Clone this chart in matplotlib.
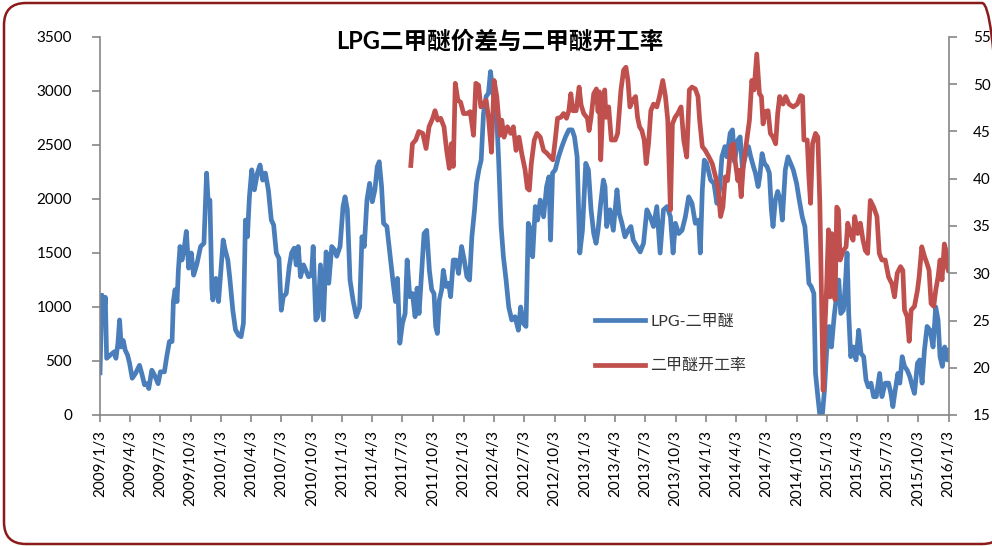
import pandas as pd
import matplotlib.pyplot as plt
from matplotlib.patches import FancyBboxPatch
from matplotlib.transforms import IdentityTransform

plt.rcParams['font.family'] = ['Lato', 'Noto Sans CJK SC', 'DejaVu Sans']

# LPG - DME price spread (left axis)
spread_dates = [
    '2009-01-03', '2009-01-09', '2009-01-15', '2009-01-19', '2009-01-23', '2009-02-03', '2009-02-15', '2009-02-20',
    '2009-02-26', '2009-03-03', '2009-03-08', '2009-03-14', '2009-03-20', '2009-03-27', '2009-04-02', '2009-04-10',
    '2009-04-20', '2009-05-02', '2009-05-10', '2009-05-17', '2009-05-24', '2009-05-30', '2009-06-08', '2009-06-16',
    '2009-06-27', '2009-07-04', '2009-07-16', '2009-07-23', '2009-07-31', '2009-08-08', '2009-08-12', '2009-08-17',
    '2009-08-23', '2009-08-27', '2009-09-01', '2009-09-07', '2009-09-13', '2009-09-20', '2009-09-27', '2009-10-05',
    '2009-10-12', '2009-10-22', '2009-11-02', '2009-11-12', '2009-11-20', '2009-11-25', '2009-11-30', '2009-12-06',
    '2009-12-09', '2009-12-18', '2009-12-26', '2010-01-02', '2010-01-09', '2010-01-15', '2010-01-23', '2010-01-29',
    '2010-02-07', '2010-02-15', '2010-02-24', '2010-03-04', '2010-03-11', '2010-03-17', '2010-03-23', '2010-03-29',
    '2010-04-05', '2010-04-13', '2010-04-22', '2010-04-30', '2010-05-08', '2010-05-16', '2010-05-25', '2010-06-03',
    '2010-06-10', '2010-06-18', '2010-06-26', '2010-07-03', '2010-07-09', '2010-07-18', '2010-07-27', '2010-08-03',
    '2010-08-11', '2010-08-17', '2010-08-23', '2010-08-30', '2010-09-08', '2010-09-23', '2010-10-02', '2010-10-07',
    '2010-10-15', '2010-10-21', '2010-10-29', '2010-11-07', '2010-11-15', '2010-11-23', '2010-12-02', '2010-12-10',
    '2010-12-17', '2010-12-27', '2011-01-05', '2011-01-11', '2011-01-18', '2011-01-26', '2011-02-04', '2011-02-14',
    '2011-02-24', '2011-03-03', '2011-03-10', '2011-03-18', '2011-03-26', '2011-04-03', '2011-04-11', '2011-04-18',
    '2011-04-24', '2011-05-01', '2011-05-07', '2011-05-17', '2011-05-27', '2011-06-05', '2011-06-12', '2011-06-18',
    '2011-06-25', '2011-07-03', '2011-07-11', '2011-07-17', '2011-07-25', '2011-08-02', '2011-08-10', '2011-08-16',
    '2011-08-22', '2011-08-30', '2011-09-06', '2011-09-14', '2011-09-22', '2011-09-29', '2011-10-06', '2011-10-11',
    '2011-10-16', '2011-10-22', '2011-10-29', '2011-11-03', '2011-11-11', '2011-11-19', '2011-11-25', '2011-12-03',
    '2011-12-11', '2011-12-19', '2011-12-28', '2012-01-05', '2012-01-13', '2012-01-21', '2012-01-28', '2012-02-05',
    '2012-02-11', '2012-02-18', '2012-02-25', '2012-03-03', '2012-03-11', '2012-03-18', '2012-03-24', '2012-04-02',
    '2012-04-10', '2012-04-18', '2012-04-25', '2012-05-02', '2012-05-10', '2012-05-18', '2012-05-27', '2012-06-06',
    '2012-06-16', '2012-06-23', '2012-07-01', '2012-07-09', '2012-07-16', '2012-07-23', '2012-07-29', '2012-08-06',
    '2012-08-13', '2012-08-21', '2012-08-31', '2012-09-09', '2012-09-16', '2012-09-21', '2012-09-27', '2012-10-05',
    '2012-10-15', '2012-10-25', '2012-11-05', '2012-11-15', '2012-11-25', '2012-12-02', '2012-12-10', '2012-12-18',
    '2012-12-26', '2013-01-05', '2013-01-13', '2013-01-21', '2013-01-29', '2013-02-05', '2013-02-11', '2013-02-19',
    '2013-02-27', '2013-03-04', '2013-03-09', '2013-03-19', '2013-03-29', '2013-04-09', '2013-04-16', '2013-04-24',
    '2013-05-03', '2013-05-13', '2013-05-21', '2013-05-28', '2013-06-08', '2013-06-18', '2013-06-28', '2013-07-08',
    '2013-07-18', '2013-07-28', '2013-08-07', '2013-08-17', '2013-08-27', '2013-09-07', '2013-09-17', '2013-09-25',
    '2013-10-02', '2013-10-12', '2013-10-22', '2013-11-01', '2013-11-11', '2013-11-21', '2013-12-01', '2013-12-11',
    '2013-12-16', '2013-12-22', '2013-12-28', '2014-01-04', '2014-01-16', '2014-01-26', '2014-02-04', '2014-02-12',
    '2014-02-19', '2014-02-28', '2014-03-06', '2014-03-16', '2014-03-23', '2014-03-29', '2014-04-08', '2014-04-15',
    '2014-04-22', '2014-04-30', '2014-05-10', '2014-05-17', '2014-05-25', '2014-05-31', '2014-06-08', '2014-06-13',
    '2014-06-20', '2014-06-27', '2014-07-05', '2014-07-12', '2014-07-18', '2014-07-23', '2014-07-30', '2014-08-06',
    '2014-08-14', '2014-08-20', '2014-08-29', '2014-09-06', '2014-09-14', '2014-09-22', '2014-10-02', '2014-10-10',
    '2014-10-19', '2014-10-27', '2014-11-03', '2014-11-08', '2014-11-15', '2014-11-23', '2014-11-28', '2014-12-05',
    '2014-12-11', '2014-12-19', '2014-12-25', '2014-12-31', '2015-01-08', '2015-01-15', '2015-01-23', '2015-01-30',
    '2015-02-06', '2015-02-12', '2015-02-20', '2015-02-26', '2015-03-03', '2015-03-08', '2015-03-14', '2015-03-22',
    '2015-03-30', '2015-04-07', '2015-04-14', '2015-04-22', '2015-04-29', '2015-05-06', '2015-05-14', '2015-05-22',
    '2015-05-30', '2015-06-09', '2015-06-16', '2015-06-26', '2015-07-06', '2015-07-13', '2015-07-19', '2015-07-26',
    '2015-08-03', '2015-08-09', '2015-08-16', '2015-08-23', '2015-08-31', '2015-09-08', '2015-09-16', '2015-09-22',
    '2015-10-01', '2015-10-08', '2015-10-15', '2015-10-22', '2015-10-30', '2015-11-08', '2015-11-17', '2015-11-25',
    '2015-12-02', '2015-12-08', '2015-12-15', '2015-12-22', '2015-12-30', '2016-01-02',
]
spread = [
    390, 1110, 940, 1090, 525, 555, 585, 525,
    665, 880, 630, 690, 600, 555, 480, 340,
    385, 460, 370, 280, 290, 245, 415, 370,
    290, 400, 400, 540, 680, 680, 1050, 1160,
    1050, 1340, 1560, 1435, 1530, 1700, 1360, 1500,
    1295, 1400, 1560, 1590, 2240, 1960, 1990, 1160,
    1065, 1265, 1050, 1340, 1620, 1530, 1435, 1265,
    970, 790, 740, 725, 850, 1805, 1650, 2020,
    2270, 2085, 2240, 2315, 2175, 2240, 2085, 1805,
    1760, 1500, 1450, 970, 1095, 1125, 1375, 1500,
    1545, 1390, 1560, 1280, 1390, 1280, 1295, 1560,
    880, 910, 1390, 880, 1510, 1220, 1560, 1530,
    1470, 1560, 1930, 2020, 1900, 1250, 1065, 910,
    1000, 1650, 1560, 1990, 2145, 1975, 2085, 2300,
    2345, 2115, 1775, 1745, 1465, 1220, 1050, 1265,
    665, 850, 940, 1435, 1095, 1125, 910, 1175,
    940, 1340, 1680, 1710, 1340, 1160, 1125, 820,
    755, 1065, 1160, 1340, 1190, 1220, 1095, 1435,
    1435, 1310, 1560, 1435, 1280, 1250, 1650, 1900,
    2145, 2270, 2360, 2790, 2950, 2980, 3180, 2950,
    2890, 2330, 1750, 1465, 1250, 1000, 880, 910,
    785, 1000, 850, 820, 1775, 1710, 1465, 1930,
    1805, 1990, 1835, 2115, 2205, 1620, 2240, 2270,
    2390, 2485, 2575, 2640, 2640, 2575, 2390, 1500,
    1710, 2330, 2270, 1900, 1680, 1590, 1710, 1960,
    2175, 2115, 1745, 1900, 1710, 2085, 1865, 1775,
    1650, 1710, 1745, 1620, 1560, 1510, 1590, 1900,
    1835, 1745, 1930, 1500, 1900, 1930, 1835, 1500,
    1775, 1680, 1710, 1835, 2020, 1960, 1775, 1805,
    1500, 2085, 2360, 2330, 2175, 2145, 1960, 2085,
    2390, 2485, 2390, 2610, 2640, 2345, 2545, 2575,
    2270, 2390, 2485, 2390, 2300, 2240, 2115, 2205,
    2420, 2330, 2300, 2240, 1900, 1745, 1990, 2070,
    1990, 1805, 2270, 2390, 2330, 2270, 2145, 1990,
    1835, 1745, 1465, 1220, 1190, 1125, 385, 170,
    0, 15, 230, 570, 820, 630, 910, 1095,
    1250, 940, 970, 1220, 1500, 940, 540, 630,
    510, 785, 570, 540, 325, 260, 295, 170,
    170, 385, 170, 295, 295, 200, 77, 230,
    385, 295, 540, 450, 415, 355, 260, 200,
    480, 510, 295, 600, 820, 785, 630, 1000,
    880, 540, 450, 630, 510, 600,
]

# DME operating rate (right axis)
rate_dates = [
    '2011-07-28', '2011-08-02', '2011-08-12', '2011-08-21', '2011-09-02', '2011-09-12', '2011-09-21', '2011-10-02',
    '2011-10-09', '2011-10-17', '2011-10-26', '2011-11-05', '2011-11-13', '2011-11-21', '2011-11-27', '2011-12-03',
    '2011-12-09', '2011-12-17', '2011-12-25', '2012-01-03', '2012-01-13', '2012-01-23', '2012-02-02', '2012-02-09',
    '2012-02-17', '2012-02-24', '2012-03-03', '2012-03-11', '2012-03-18', '2012-03-27', '2012-04-04', '2012-04-12',
    '2012-04-22', '2012-04-27', '2012-05-04', '2012-05-14', '2012-05-24', '2012-06-01', '2012-06-09', '2012-06-18',
    '2012-06-26', '2012-07-06', '2012-07-13', '2012-07-19', '2012-07-25', '2012-08-03', '2012-08-11', '2012-08-21',
    '2012-08-31', '2012-09-10', '2012-09-20', '2012-09-28', '2012-10-05', '2012-10-12', '2012-10-22', '2012-10-30',
    '2012-11-08', '2012-11-15', '2012-11-21', '2012-11-27', '2012-12-07', '2012-12-16', '2012-12-22', '2012-12-30',
    '2013-01-10', '2013-01-15', '2013-01-21', '2013-01-29', '2013-02-06', '2013-02-11', '2013-02-15', '2013-02-19',
    '2013-02-25', '2013-03-03', '2013-03-07', '2013-03-15', '2013-03-23', '2013-04-04', '2013-04-11', '2013-04-21',
    '2013-04-29', '2013-05-06', '2013-05-12', '2013-05-18', '2013-05-26', '2013-06-04', '2013-06-10', '2013-06-16',
    '2013-06-23', '2013-06-30', '2013-07-06', '2013-07-13', '2013-07-20', '2013-07-28', '2013-08-07', '2013-08-15',
    '2013-08-25', '2013-09-02', '2013-09-09', '2013-09-17', '2013-09-23', '2013-10-01', '2013-10-09', '2013-10-19',
    '2013-10-27', '2013-11-05', '2013-11-13', '2013-11-21', '2013-12-01', '2013-12-09', '2013-12-14', '2013-12-22',
    '2013-12-31', '2014-01-11', '2014-01-21', '2014-01-31', '2014-02-07', '2014-02-15', '2014-02-22', '2014-03-01',
    '2014-03-08', '2014-03-18', '2014-03-26', '2014-04-01', '2014-04-08', '2014-04-12', '2014-04-18', '2014-04-25',
    '2014-05-05', '2014-05-13', '2014-05-20', '2014-05-27', '2014-06-04', '2014-06-12', '2014-06-18', '2014-06-23',
    '2014-06-30', '2014-07-08', '2014-07-15', '2014-07-23', '2014-07-31', '2014-08-06', '2014-08-12', '2014-08-22',
    '2014-08-30', '2014-09-09', '2014-09-22', '2014-10-04', '2014-10-14', '2014-10-20', '2014-10-24', '2014-11-03',
    '2014-11-08', '2014-11-13', '2014-11-19', '2014-11-28', '2014-12-05', '2014-12-11', '2014-12-17', '2014-12-21',
    '2014-12-26', '2014-12-31', '2015-01-06', '2015-01-11', '2015-01-16', '2015-01-21', '2015-01-26', '2015-01-31',
    '2015-02-05', '2015-02-10', '2015-02-20', '2015-02-28', '2015-03-05', '2015-03-13', '2015-03-21', '2015-03-26',
    '2015-04-04', '2015-04-12', '2015-04-20', '2015-04-27', '2015-05-04', '2015-05-12', '2015-05-22', '2015-06-01',
    '2015-06-08', '2015-06-16', '2015-06-26', '2015-07-06', '2015-07-16', '2015-07-24', '2015-08-01', '2015-08-11',
    '2015-08-18', '2015-08-23', '2015-08-31', '2015-09-06', '2015-09-12', '2015-09-22', '2015-10-01', '2015-10-06',
    '2015-10-14', '2015-10-22', '2015-10-30', '2015-11-05', '2015-11-11', '2015-11-19', '2015-11-25', '2015-12-02',
    '2015-12-08', '2015-12-14', '2015-12-21', '2015-12-26', '2015-12-31', '2016-01-02',
]
rate = [
    41.4, 43.7, 44.1, 45.0, 44.8, 43.2, 45.5, 46.4,
    47.2, 46.2, 46.4, 45.5, 43.0, 41.1, 43.7, 41.3,
    50.1, 48.3, 48.1, 46.9, 46.9, 47.1, 44.6, 50.1,
    49.9, 47.6, 47.9, 48.3, 46.5, 42.8, 50.4, 48.7,
    44.6, 46.2, 44.4, 45.5, 44.8, 45.5, 43.0, 44.4,
    42.7, 41.0, 39.0, 38.8, 41.6, 44.1, 44.8, 44.4,
    43.0, 42.7, 42.3, 42.0, 44.1, 46.4, 46.5, 46.9,
    46.4, 47.2, 49.0, 47.2, 47.2, 49.7, 47.8, 46.9,
    46.4, 45.1, 46.5, 49.0, 49.5, 47.1, 49.2, 42.0,
    47.2, 49.4, 46.5, 47.6, 44.1, 44.1, 44.8, 49.4,
    51.5, 51.8, 50.4, 47.6, 48.3, 48.7, 46.5, 45.5,
    45.1, 44.1, 41.6, 43.7, 47.2, 47.9, 47.6, 48.7,
    50.4, 48.7, 46.2, 36.7, 45.8, 46.5, 46.9, 47.6,
    44.1, 42.3, 49.4, 49.7, 49.5, 48.7, 46.2, 43.4,
    43.0, 42.3, 41.6, 40.2, 39.1, 36.0, 37.0, 40.2,
    39.8, 43.4, 43.7, 41.6, 39.8, 40.9, 38.1, 41.6,
    44.1, 46.2, 50.4, 49.4, 53.2, 49.0, 48.7, 45.8,
    47.1, 47.2, 44.8, 44.4, 43.7, 46.9, 48.7, 47.9,
    48.7, 47.9, 47.6, 47.9, 48.8, 48.7, 44.1, 44.1,
    40.2, 37.4, 43.7, 44.8, 44.4, 37.4, 25.7, 17.6,
    24.0, 28.2, 34.6, 27.5, 34.2, 28.2, 27.2, 37.0,
    36.7, 31.4, 32.4, 32.8, 35.3, 34.2, 33.5, 36.0,
    34.2, 35.3, 33.5, 32.4, 32.1, 37.7, 37.0, 36.0,
    32.1, 31.4, 31.4, 29.6, 28.9, 27.5, 30.0, 30.7,
    30.3, 26.1, 25.4, 22.8, 26.1, 26.5, 28.2, 29.6,
    32.8, 31.8, 31.0, 30.3, 26.8, 26.5, 28.2, 29.6,
    31.4, 29.3, 33.1, 32.4, 30.5, 30.3,
]

title = 'LPG二甲醚价差与二甲醚开工率'
spread_label = 'LPG-二甲醚'
rate_label = '二甲醚开工率'

tick_dates = pd.date_range('2009-01-03', '2016-01-03', freq=pd.DateOffset(months=3))
tick_labels = [f'{d.year}/{d.month}/{d.day}' for d in tick_dates]

axis_grey = '#868686'

fig = plt.figure(figsize=(9.92, 5.46), dpi=100)
ax = fig.add_axes([100 / 992, 1 - 415 / 546, 849 / 992, 378 / 546])
ax2 = ax.twinx()

l1, = ax.plot(pd.to_datetime(spread_dates), spread, color='#4A7EBB', lw=3.4,
              solid_joinstyle='round', label=spread_label)
l2, = ax2.plot(pd.to_datetime(rate_dates), rate, color='#C0504D', lw=3.4,
               solid_joinstyle='round', label=rate_label)

ax.set_xlim(pd.Timestamp('2009-01-03'), pd.Timestamp('2016-01-04'))
ax.set_ylim(0, 3500)
ax.set_yticks(range(0, 3501, 500))
ax2.set_ylim(15, 55)
ax2.set_yticks(range(15, 56, 5))
ax.set_xticks(tick_dates)
ax.set_xticklabels(tick_labels, rotation=90)

for a in (ax, ax2):
    for side in ('top', 'left', 'right', 'bottom'):
        a.spines[side].set_visible(False)
ax.spines['left'].set_visible(True)
ax.spines['bottom'].set_visible(True)
ax2.spines['right'].set_visible(True)
for sp in (ax.spines['left'], ax.spines['bottom'], ax2.spines['right']):
    sp.set_color(axis_grey)
    sp.set_linewidth(1.2)

ax.tick_params(axis='y', direction='out', length=6, width=1.2, color=axis_grey,
               labelsize=11, pad=14)
ax.tick_params(axis='x', direction='out', length=5, width=1.2, color=axis_grey,
               labelsize=11, pad=6)
ax2.tick_params(axis='y', direction='out', length=6, width=1.2, color=axis_grey,
                labelsize=11, pad=11)

fig.text(500 / 992, 1 - 41 / 546, title, ha='center', va='center',
         fontsize=17, fontweight='bold')

fig.legend([l1, l2], [spread_label, rate_label], loc='center left',
           bbox_to_anchor=(595 / 992, 1 - 344 / 546), frameon=False,
           fontsize=11.5, handlelength=3.1, handletextpad=0.35,
           labelspacing=1.85, borderpad=0, borderaxespad=0, labelcolor='#333333')

border = FancyBboxPatch((4, 2), 1000, 541, boxstyle='round,pad=0,rounding_size=22',
                        transform=IdentityTransform(), fill=False,
                        edgecolor='#8B1A1A', linewidth=1.8)
fig.add_artist(border)

fig.savefig('out.png', dpi=100)
